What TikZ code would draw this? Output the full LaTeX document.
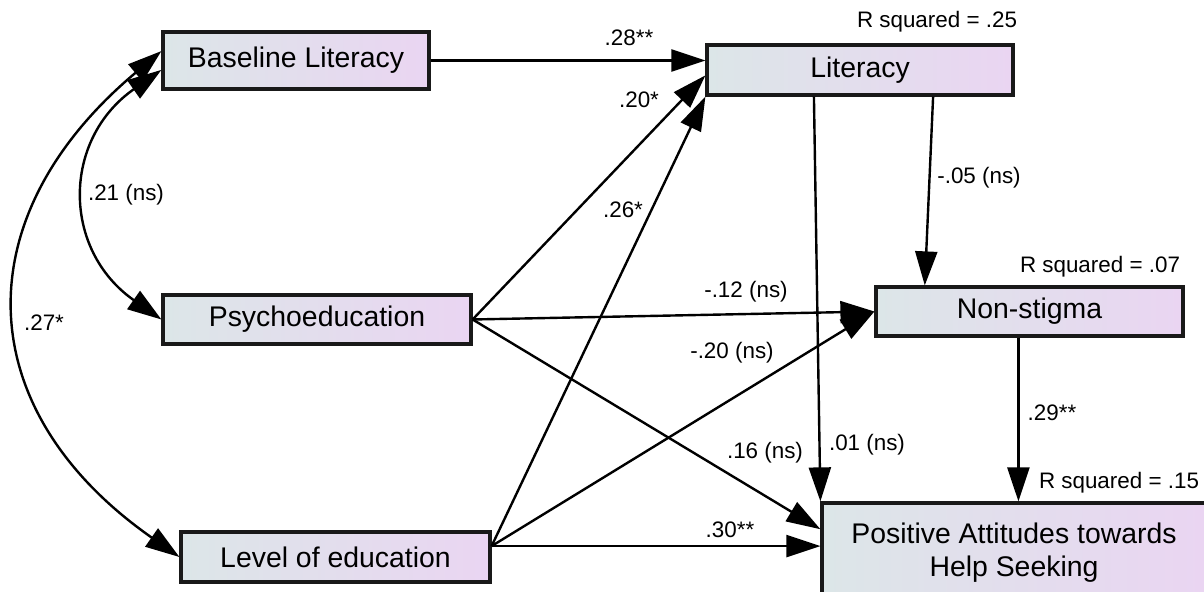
\documentclass[tikz,border=0pt]{standalone}
\usepackage{fontspec}
\setmainfont{Liberation Sans}
\usetikzlibrary{arrows.meta}
\definecolor{boxleft}{RGB}{220,230,232}
\definecolor{boxright}{RGB}{234,213,242}

\begin{document}
\begin{tikzpicture}[x=0.5pt, y=0.5pt,
    obs/.style={draw=black!90, line width=1.6pt, left color=boxleft, right color=boxright, inner sep=0pt, align=center, font=\fontsize{14.2}{16.5}\selectfont},
    effect/.style={-{Triangle[length=17pt,width=11pt]}, line width=1.2pt},
    cov/.style={{Triangle[length=17pt,width=11pt]}-{Triangle[length=17pt,width=11pt]}, line width=1.2pt},
    coef/.style={inner sep=0pt, font=\fontsize{11.2}{13}\selectfont}]
    \useasboundingbox (0,0) rectangle (1204,592);
    % Variables
    \node[obs, minimum width=133pt, minimum height=28.5pt] (base) at (296,531.5) {Baseline Literacy};
    \node[obs, minimum width=153pt, minimum height=25pt] (lit) at (860,522) {Literacy};
    \node[obs, minimum width=154pt, minimum height=24.5pt] (psy) at (317,272.5) {Psychoeducation};
    \node[obs, minimum width=154.5pt, minimum height=25pt] (lev) at (335.5,35) {Level of education};
    \node[obs, minimum width=153.5pt, minimum height=24.5pt] (nons) at (1029.5,280.5) {Non-stigma};
    \node[obs, minimum width=192pt, minimum height=50pt] (pos) at (1014,39) {Positive Attitudes towards\\Help Seeking};
    % R squared
    \node[coef] (rlit) at (937,570) {R squared = .25};
    \node[coef] (rnons) at (1100,325) {R squared = .07};
    \node[coef] (rpos) at (1119,109) {R squared = .15};
    % Paths into Literacy
    \draw[effect] (base.east) -- (base.east -| lit.west);
    \draw[effect] (psy.east) -- (lit.182);
    \draw[effect] (lev.4) -- (lit.south west);
    % Paths into Non-stigma
    \draw[effect] (lit.-20) -- (nons.166);
    \draw[effect] (psy.east) -- (nons.west);
    \draw[effect] (lev.4) -- (nons.west);
    % Paths into Positive Attitudes
    \draw[effect] (lit.210) -- (pos.north west);
    \draw[effect] (nons.-113) -- (nons.-113 |- pos.north);
    \draw[effect] (psy.east) -- (pos.173);
    \draw[effect] (lev.4) -- (lev.4 -| pos.west);
    % Covariances
    \draw[cov] (base.184) to[out=215, in=145, looseness=1.25] (psy.west);
    \draw[cov] (base.176) to[out=220, in=145, looseness=1.3] (lev.west);
    % Coefficients
    \node[coef] (c1) at (629,554) {.28**};
    \node[coef] (c2) at (639,492) {.20*};
    \node[coef] (c3) at (623,382) {.26*};
    \node[coef] (c4) at (746,300) {-.12 (ns)};
    \node[coef] (c5) at (732,239) {-.20 (ns)};
    \node[coef] (c6) at (765,139) {.16 (ns)};
    \node[coef] (c7) at (730,62) {.30**};
    \node[coef] (c8) at (867,147) {.01 (ns)};
    \node[coef] (c9) at (1052,179) {.29**};
    \node[coef] (c10) at (979,414) {-.05 (ns)};
    \node[coef] (c11) at (126,397) {.21 (ns)};
    \node[coef] (c12) at (44,269) {.27*};
\end{tikzpicture}
\end{document}
